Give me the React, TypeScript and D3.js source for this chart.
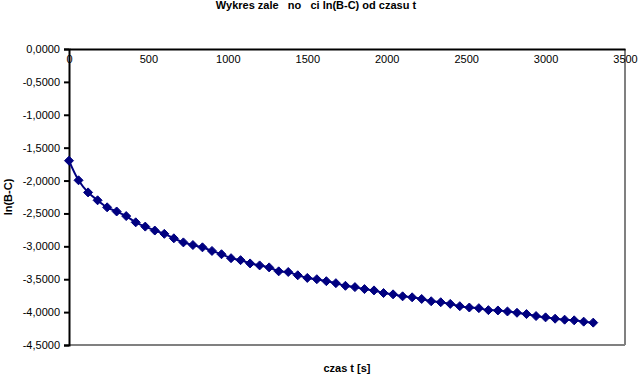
import React, { useRef, useEffect } from 'react';
import * as d3 from 'd3';

// czas t [s]
const times = [
    0, 60, 120, 180, 240, 300, 360, 420, 480, 540,
    600, 660, 720, 780, 840, 900, 960, 1020, 1080, 1140,
    1200, 1260, 1320, 1380, 1440, 1500, 1560, 1620, 1680, 1740,
    1800, 1860, 1920, 1980, 2040, 2100, 2160, 2220, 2280, 2340,
    2400, 2460, 2520, 2580, 2640, 2700, 2760, 2820, 2880, 2940,
    3000, 3060, 3120, 3180, 3240, 3300
];

// ln(B-C)
const lnBC = [
    -1.698, -1.996, -2.18, -2.30, -2.407, -2.47, -2.54, -2.635, -2.70, -2.76,
    -2.81, -2.878, -2.94, -2.98, -3.015, -3.07, -3.12, -3.18, -3.21, -3.26,
    -3.29, -3.32, -3.38, -3.39, -3.44, -3.48, -3.50, -3.53, -3.56, -3.60,
    -3.62, -3.65, -3.67, -3.71, -3.73, -3.76, -3.775, -3.80, -3.835, -3.85,
    -3.875, -3.91, -3.93, -3.94, -3.97, -3.975, -3.99, -4.01, -4.03, -4.06,
    -4.08, -4.10, -4.115, -4.125, -4.145, -4.16
];

const xTicks = [0, 500, 1000, 1500, 2000, 2500, 3000, 3500];
const yTicks = [0, -0.5, -1, -1.5, -2, -2.5, -3, -3.5, -4, -4.5];

const title = 'Wykres zale\u00a0\u00a0\u00a0no\u00a0\u00a0\u00a0ci ln(B-C) od czasu t';
const xTitle = 'czas t [s]';
const yTitle = 'ln(B-C)';

const W = 639;
const H = 377;
const navy = '#000080';

export default function App() {
    const svgRef = useRef(null);

    useEffect(() => {
        const margin = { top: 49, right: 14, bottom: 32, left: 69 };
        const width = W - margin.left - margin.right;
        const height = H - margin.top - margin.bottom;

        const root = d3.select(svgRef.current);
        root.selectAll('*').remove();

        const svg = root.append('g')
            .attr('transform', `translate(${margin.left},${margin.top})`);

        const xScale = d3.scaleLinear().domain([0, 3500]).range([0, width]);
        const yScale = d3.scaleLinear().domain([-4.5, 0]).range([height, 0]);

        const fmt = (v: number) => v.toFixed(4).replace('.', ',').replace('-0,0000', '0,0000');

        // plot frame (gray right and bottom)
        svg.append('line')
            .attr('x1', 0).attr('x2', width)
            .attr('y1', height).attr('y2', height)
            .attr('stroke', '#808080').attr('stroke-width', 2);
        svg.append('line')
            .attr('x1', width).attr('x2', width)
            .attr('y1', 0).attr('y2', height)
            .attr('stroke', '#808080').attr('stroke-width', 2);

        // y axis
        const yAxis = svg.append('g')
            .call(d3.axisLeft(yScale).tickValues(yTicks).tickSize(5).tickPadding(4).tickFormat(fmt));
        yAxis.select('.domain').attr('stroke', '#000').attr('stroke-width', 2);
        yAxis.selectAll('.tick line').attr('stroke', '#000').attr('stroke-width', 2);
        yAxis.selectAll('.tick text')
            .attr('font-family', 'Liberation Sans, Arial, sans-serif')
            .attr('font-size', 11)
            .attr('fill', '#000');

        // x axis along y = 0 (top)
        const xAxis = svg.append('g')
            .attr('transform', `translate(0,${yScale(0)})`)
            .call(d3.axisBottom(xScale).tickValues(xTicks).tickSize(0).tickPadding(6).tickFormat(d3.format('d')));
        xAxis.select('.domain').attr('stroke', '#000').attr('stroke-width', 2);
        xAxis.selectAll('.tick text')
            .attr('font-family', 'Liberation Sans, Arial, sans-serif')
            .attr('font-size', 11)
            .attr('fill', '#000');

        const data = times.map((t, i) => ({ x: t, y: lnBC[i] }));

        const line = d3.line()
            .x((d: any) => xScale(d.x))
            .y((d: any) => yScale(d.y))
            .curve(d3.curveCatmullRom);

        svg.append('path')
            .datum(data)
            .attr('fill', 'none')
            .attr('stroke', navy)
            .attr('stroke-width', 2)
            .attr('d', line);

        svg.selectAll('.pt')
            .data(data)
            .enter().append('path')
            .attr('class', 'pt')
            .attr('transform', (d: any) => `translate(${xScale(d.x)},${yScale(d.y)})`)
            .attr('d', 'M0,-4.5L4.5,0L0,4.5L-4.5,0Z')
            .attr('fill', navy)
            .attr('stroke', navy)
            .attr('stroke-width', 1);

        // titles
        root.append('text')
            .attr('x', margin.left + width / 2 - 31)
            .attr('y', 9)
            .attr('text-anchor', 'middle')
            .attr('font-family', 'Liberation Sans, Arial, sans-serif')
            .attr('font-size', 11)
            .attr('font-weight', 'bold')
            .style('white-space', 'pre')
            .text(title);

        root.append('text')
            .attr('x', margin.left + width / 2)
            .attr('y', 372)
            .attr('text-anchor', 'middle')
            .attr('font-family', 'Liberation Sans, Arial, sans-serif')
            .attr('font-size', 11)
            .attr('font-weight', 'bold')
            .text(xTitle);

        root.append('text')
            .attr('transform', `translate(12,${margin.top + height / 2}) rotate(-90)`)
            .attr('text-anchor', 'middle')
            .attr('font-family', 'Liberation Sans, Arial, sans-serif')
            .attr('font-size', 11)
            .attr('font-weight', 'bold')
            .text(yTitle);

        return () => {
            d3.select(svgRef.current).selectAll('*').remove();
        };
    }, []);

    return (
        <svg ref={svgRef} width={W} height={H}
            style={{ position: 'absolute', left: 0, top: 0, background: '#fff' }}></svg>
    );
}
